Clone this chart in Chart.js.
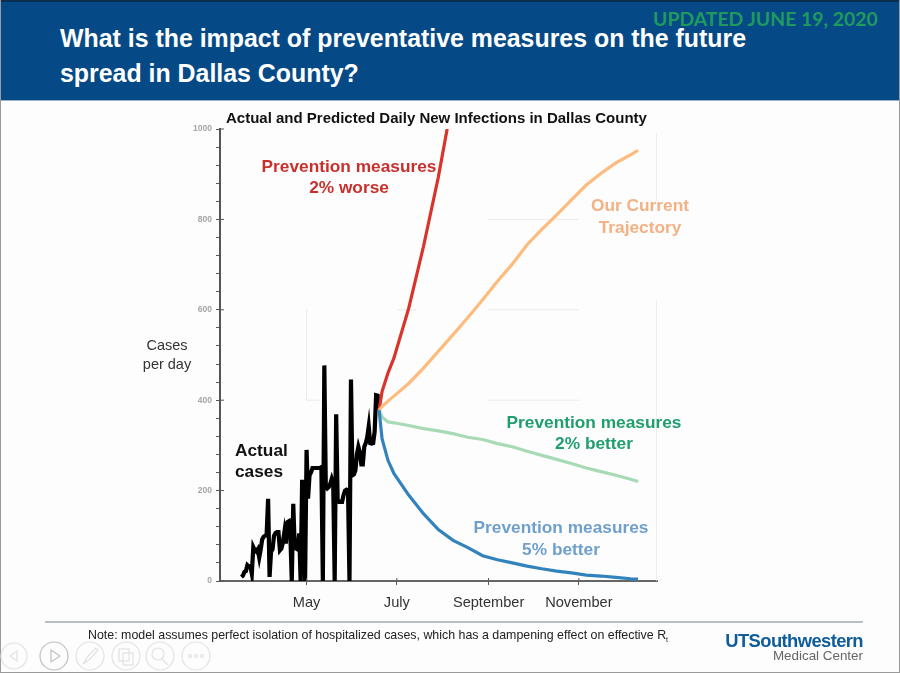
<!DOCTYPE html>
<html>
<head>
<meta charset="utf-8">
<title>Dallas County</title>
<script src="https://cdn.jsdelivr.net/npm/chart.js@4"></script>
<style>
    html, body { margin: 0; padding: 0; }
    body { width: 900px; height: 673px; position: relative; overflow: hidden; background: #fdfdfd; font-family: "Liberation Sans", Arial, sans-serif; }
    #grafico { position: absolute; left: 0; top: 0; }
    #topo { position: absolute; left: 0; top: 0; width: 900px; height: 101px; background: #054a86; border-top: 2px solid #0c2f4f; border-bottom: 1px solid #9db4c8; box-sizing: border-box; }
    #moldura { position: absolute; left: 0; top: 0; width: 900px; height: 673px; box-sizing: border-box; border: 1px solid #9a9a9a; border-top: none; pointer-events: none; }
    #regua { position: absolute; left: 45px; top: 621px; width: 818px; height: 2px; background: #b9bfc4; }
    #nav { position: absolute; left: 0; top: 636px; }
    .txt { position: absolute; white-space: nowrap; line-height: 1; }
    .anot { font-weight: bold; font-size: 17.3px; text-align: center; transform: translateX(-50%); }
</style>
</head>
<body>
<canvas id="grafico" width="900" height="673"></canvas>
<div id="topo"></div>
<div id="moldura"></div>
<div id="regua"></div>

<div class="txt" style="left:653px;top:7px;font:bold 19.4px Lato,sans-serif;color:#1f9a5f">UPDATED JUNE 19, 2020</div>
<div class="txt" style="left:60px;top:26px;font-size:24.9px;font-weight:bold;color:#fff">What is the impact of preventative measures on the future</div>
<div class="txt" style="left:60px;top:61px;font-size:24.9px;font-weight:bold;color:#fff">spread in Dallas County?</div>
<div class="txt" style="left:226px;top:110px;font-size:15px;font-weight:bold;color:#111">Actual and Predicted Daily New Infections in Dallas County</div>

<div class="txt anot" style="left:349px;top:158px;color:#c9302c">Prevention measures</div>
<div class="txt anot" style="left:349px;top:179px;color:#c9302c">2% worse</div>
<div class="txt anot" style="left:640px;top:197px;color:#f4b183">Our Current</div>
<div class="txt anot" style="left:640px;top:219px;color:#f4b183">Trajectory</div>
<div class="txt anot" style="left:594px;top:414px;color:#1f9e6e">Prevention measures</div>
<div class="txt anot" style="left:594px;top:435px;color:#1f9e6e">2% better</div>
<div class="txt anot" style="left:561px;top:519px;color:#6f9fcc">Prevention measures</div>
<div class="txt anot" style="left:561px;top:541px;color:#6f9fcc">5% better</div>
<div class="txt" style="left:235px;top:442px;font-size:17.3px;font-weight:bold;color:#111">Actual</div>
<div class="txt" style="left:235px;top:463px;font-size:17.3px;font-weight:bold;color:#111">cases</div>
<div class="txt" style="left:167px;top:338px;font-size:14.5px;color:#333;transform:translateX(-50%)">Cases</div>
<div class="txt" style="left:167px;top:357px;font-size:14.5px;color:#333;transform:translateX(-50%)">per day</div>

<div class="txt" style="left:88px;top:629px;font-size:12.4px;color:#222">Note: model assumes perfect isolation of hospitalized cases, which has a dampening effect on effective R<sub style="font-size:7px;line-height:0">t</sub></div>
<div class="txt" style="right:37px;top:632px;font-size:18.4px;font-weight:bold;color:#0f5c9a;letter-spacing:-0.6px">UTSouthwestern</div>
<div class="txt" style="right:37px;top:649px;font-size:13.4px;color:#666">Medical Center</div>

<svg id="nav" width="220" height="36" fill="none" stroke="#e2e2e2" stroke-width="1.2">
    <circle cx="14" cy="20" r="13"/><path d="M17 15 L10 20 L17 25 Z"/>
    <circle cx="54" cy="20" r="14" stroke="#c0c0c0"/><path d="M51 14 L60 20 L51 26 Z" stroke="#c0c0c0"/>
    <circle cx="90" cy="20" r="14"/><path d="M83 28 L88 20 L96 12 L98 14 L90 23 Z"/>
    <circle cx="126" cy="20" r="14"/><rect x="119" y="13" width="10" height="12"/><rect x="123" y="17" width="10" height="12"/>
    <circle cx="160" cy="20" r="14"/><circle cx="158" cy="18" r="6"/><path d="M162 23 L168 29"/>
    <circle cx="196" cy="20" r="14"/><circle cx="190" cy="20" r="1.5"/><circle cx="196" cy="20" r="1.5"/><circle cx="202" cy="20" r="1.5"/>
</svg>

<script>
// Eixo x em dias desde 1 de marco de 2020
const tickDias = [61, 122, 184, 245];
const tickNomes = ["May", "July", "September", "November"];
const tickValores = [0, 200, 400, 600, 800, 1000];

// Casos reais, um valor por dia a partir do dia 17
const diaInicial = 17;
const casosReais = [
    9, 12, 20, 22, 35, 32, 33, 16, 75, 68, 65, 70, 52, 70, 92, 98, 100, 102, 182, 9,
    65, 70, 100, 106, 108, 108, 68, 72, 85, 108, 83, 130, 132, 105, 0, 171, 75, 72, 70, 105,
    0, 224, 180, 0, 290, 182, 234, 240, 250, 250, 250, 250, 250, 250, 252, 0, 477, 210, 205, 208,
    215, 226, 215, 0, 369, 180, 175, 175, 175, 190, 200, 202, 200, 0, 446, 234, 236, 245, 280, 297,
    285, 258, 258, 297, 305, 318, 342, 305, 304, 305, 330, 411, 410, 378
];

const diasPrevisao = [110, 112, 116, 120, 130, 140, 150, 160, 170, 180, 190, 200, 210, 220, 230, 240, 250, 260, 270, 280, 285];
const trajetoria = [378, 386, 398, 409, 437, 471, 508, 545, 583, 622, 663, 701, 744, 778, 810, 843, 876, 902, 925, 943, 953];
const melhor2 = [378, 363, 352, 350, 344, 337, 332, 326, 318, 313, 304, 297, 287, 278, 269, 260, 250, 242, 234, 225, 220];
const melhor5 = [378, 315, 267, 238, 190, 149, 114, 90, 74, 56, 47, 40, 33, 27, 22, 18, 13, 11, 8, 5, 4];

const diasPior = [110, 112, 116, 120, 130, 140, 150, 156];
const pior2 = [378, 419, 460, 493, 603, 740, 893, 1000];

// Restos da grade do slide original: [dia, valor, dia, valor]
const restosGrade = [
    [184, 800, 245, 800],
    [184, 600, 245, 600],
    [184, 400, 245, 400],
    [122, 600, 135, 600],
    [61, 400, 70, 400],
    [61, 400, 61, 600],
    [297.6, 0, 297.6, 620],
    [297.6, 840, 297.6, 990]
];

function pontos(dias, valores) {
    return valores.map((v, i) => ({ x: dias[i], y: v }));
}

const datasets = restosGrade.map((r) => ({
    data: [{ x: r[0], y: r[1] }, { x: r[2], y: r[3] }],
    borderColor: "#efe8e8",
    borderWidth: 1,
    order: 9
}));

datasets.push({
    data: casosReais.map((v, i) => ({ x: diaInicial + i, y: v })),
    borderColor: "#000",
    borderWidth: 4.2,
    order: 5
});
datasets.push({ data: pontos(diasPior, pior2), borderColor: "#d9342b", borderWidth: 3.2, order: 4 });
datasets.push({ data: pontos(diasPrevisao, trajetoria), borderColor: "#fdbb7d", borderWidth: 3.2, order: 3 });
datasets.push({ data: pontos(diasPrevisao, melhor2), borderColor: "#a8dab5", borderWidth: 3.2, order: 2 });
datasets.push({ data: pontos(diasPrevisao, melhor5), borderColor: "#3182bd", borderWidth: 3.2, order: 1 });

// Os ticks maiores atravessam o eixo, entao desenha a parte de dentro
const ticksInternos = {
    id: "ticksInternos",
    afterDatasetsDraw(chart) {
        const { ctx, scales, chartArea } = chart;
        ctx.save();
        ctx.strokeStyle = "#555";
        ctx.lineWidth = 1;
        tickValores.forEach((v) => {
            const y = scales.y.getPixelForValue(v);
            ctx.beginPath();
            ctx.moveTo(chartArea.left, y);
            ctx.lineTo(chartArea.left + 4, y);
            ctx.stroke();
        });
        tickDias.forEach((d) => {
            const x = scales.x.getPixelForValue(d);
            ctx.beginPath();
            ctx.moveTo(x, chartArea.bottom);
            ctx.lineTo(x, chartArea.bottom - 3);
            ctx.stroke();
        });
        ctx.restore();
    }
};

new Chart(document.getElementById("grafico").getContext("2d"), {
    type: "line",
    data: { datasets: datasets },
    plugins: [ticksInternos],
    options: {
        responsive: false,
        animation: false,
        layout: { padding: { top: 129, right: 243, bottom: 0, left: 0 } },
        elements: { point: { radius: 0 }, line: { tension: 0, borderJoinStyle: "miter", borderCapStyle: "butt" } },
        plugins: { legend: { display: false }, tooltip: { enabled: false } },
        scales: {
            x: {
                type: "linear",
                min: 2.5,
                max: 297.8,
                afterFit: (escala) => { escala.height = 92; },
                afterBuildTicks: (escala) => { escala.ticks = tickDias.map((d) => ({ value: d })); },
                ticks: {
                    autoSkip: false,
                    maxRotation: 0,
                    padding: 9,
                    color: "#333",
                    font: { family: "Liberation Sans", size: 14.6 },
                    callback: (v) => tickNomes[tickDias.indexOf(v)]
                },
                border: { color: "#666", width: 2 },
                grid: { drawOnChartArea: false, color: "#555", tickLength: 4 }
            },
            y: {
                min: 0,
                max: 1000,
                afterFit: (escala) => { escala.width = 220; },
                ticks: {
                    stepSize: 40,
                    autoSkip: false,
                    padding: 4,
                    color: "#a5a5a5",
                    font: { family: "Liberation Sans", size: 8.5, weight: "bold" },
                    callback: (v) => (tickValores.includes(v) ? String(v) : "")
                },
                border: { color: "#555", width: 2 },
                grid: { drawOnChartArea: false, color: "#555", tickLength: 4 }
            }
        }
    }
});
</script>
</body>
</html>
